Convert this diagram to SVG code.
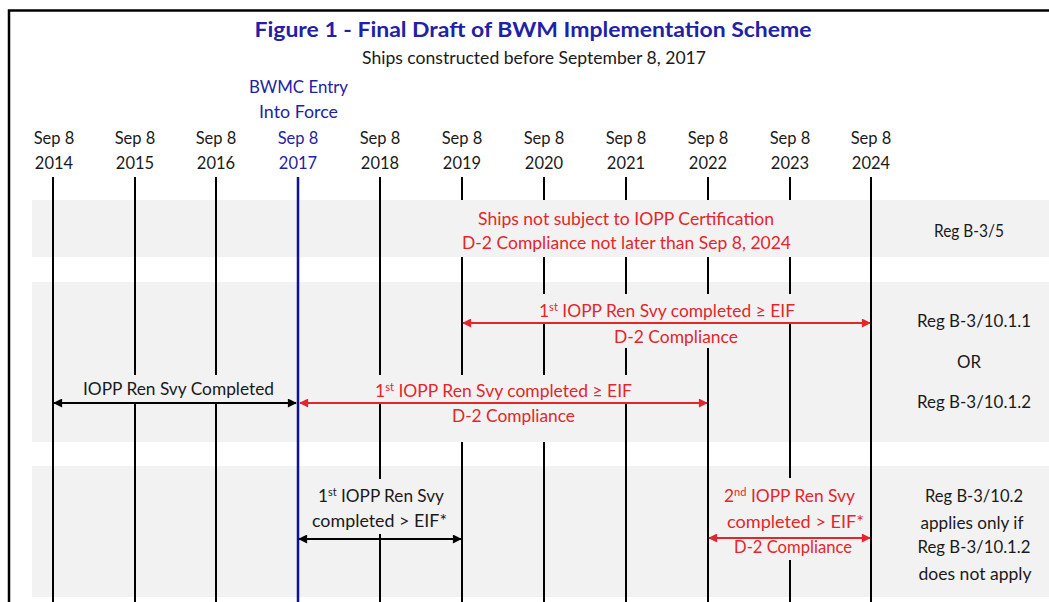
<svg xmlns="http://www.w3.org/2000/svg" width="1049" height="602" viewBox="0 0 1049 602">
<defs>
<style>
text{font-family:Lato,"Open Sans","Liberation Sans",sans-serif;font-size:16.5px;text-anchor:middle}
.blk{fill:#1a1a1a}
.red{fill:#e3262b}
.blu{fill:#1f22a6}
.title{font-weight:bold;font-size:20.5px}
.band{fill:#f2f2f2}
.vl{stroke:#000;stroke-width:2}
.sup{font-size:10.5px}
.ab{stroke:#000;stroke-width:2;fill:none}
.ar{stroke:#e3262b;stroke-width:2;fill:none}
</style>
<marker id="hb" viewBox="0 0 10 10" refX="9" refY="5" markerWidth="10" markerHeight="9" markerUnits="userSpaceOnUse" orient="auto-start-reverse"><path d="M0,0 L10,5 L0,10 Z" fill="#000"/></marker>
<marker id="hr" viewBox="0 0 10 10" refX="9" refY="5" markerWidth="10" markerHeight="9" markerUnits="userSpaceOnUse" orient="auto-start-reverse"><path d="M0,0 L10,5 L0,10 Z" fill="#e3262b"/></marker>
</defs>
<rect width="1049" height="602" fill="#fff"/>
<path d="M9,602 V10.5 H1049" fill="none" stroke="#000" stroke-width="2.5"/>
<g id="bands">
<rect class="band" x="32" y="200" width="1017" height="57"/>
<rect class="band" x="32" y="282" width="1017" height="160"/>
<rect class="band" x="32" y="466" width="1017" height="131"/>
</g>
<g id="timeline">
<line class="vl" x1="53" y1="177" x2="53" y2="602"/>
<line class="vl" x1="135" y1="177" x2="135" y2="602"/>
<line class="vl" x1="216" y1="177" x2="216" y2="602"/>
<line x1="298" y1="177" x2="298" y2="602" stroke="#1010a0" stroke-width="2.5"/>
<line class="vl" x1="380" y1="177" x2="380" y2="602"/>
<line class="vl" x1="462" y1="177" x2="462" y2="602"/>
<line class="vl" x1="544" y1="177" x2="544" y2="602"/>
<line class="vl" x1="626" y1="177" x2="626" y2="602"/>
<line class="vl" x1="708" y1="177" x2="708" y2="602"/>
<line class="vl" x1="790" y1="177" x2="790" y2="602"/>
<line class="vl" x1="871" y1="177" x2="871" y2="602"/>
</g>
<g id="textboxes">
<rect class="band" x="455" y="200" width="342" height="57"/>
<rect class="band" x="530" y="294" width="270" height="28"/>
<rect class="band" x="600" y="322" width="120" height="26"/>
<rect class="band" x="370" y="375" width="270" height="28"/>
<rect class="band" x="445" y="403" width="135" height="39"/>
<rect class="band" x="78" y="375" width="202" height="28"/>
<rect class="band" x="310" y="479" width="140" height="55"/>
<rect class="band" x="720" y="478" width="146" height="82"/>
</g>
<g id="header">
<text class="blu title" x="533" y="37" textLength="557" lengthAdjust="spacingAndGlyphs">Figure 1 - Final Draft of BWM Implementation Scheme</text>
<text class="blk" x="534" y="64" textLength="344" lengthAdjust="spacingAndGlyphs">Ships constructed before September 8, 2017</text>
<text class="blu" x="298.5" y="93" textLength="99" lengthAdjust="spacingAndGlyphs">BWMC Entry</text>
<text class="blu" x="298.5" y="118" textLength="79" lengthAdjust="spacingAndGlyphs">Into Force</text>
</g>
<g id="dates">
<g id="d2014"><text class="blk" x="54" y="144">Sep 8</text><text class="blk" x="54" y="169">2014</text></g>
<g id="d2015"><text class="blk" x="135" y="144">Sep 8</text><text class="blk" x="135" y="169">2015</text></g>
<g id="d2016"><text class="blk" x="216" y="144">Sep 8</text><text class="blk" x="216" y="169">2016</text></g>
<g id="d2017"><text class="blu" x="298" y="144">Sep 8</text><text class="blu" x="298" y="169">2017</text></g>
<g id="d2018"><text class="blk" x="380" y="144">Sep 8</text><text class="blk" x="380" y="169">2018</text></g>
<g id="d2019"><text class="blk" x="462" y="144">Sep 8</text><text class="blk" x="462" y="169">2019</text></g>
<g id="d2020"><text class="blk" x="544" y="144">Sep 8</text><text class="blk" x="544" y="169">2020</text></g>
<g id="d2021"><text class="blk" x="626" y="144">Sep 8</text><text class="blk" x="626" y="169">2021</text></g>
<g id="d2022"><text class="blk" x="708" y="144">Sep 8</text><text class="blk" x="708" y="169">2022</text></g>
<g id="d2023"><text class="blk" x="790" y="144">Sep 8</text><text class="blk" x="790" y="169">2023</text></g>
<g id="d2024"><text class="blk" x="871" y="144">Sep 8</text><text class="blk" x="871" y="169">2024</text></g>
</g>
<g id="connectors">
<line class="ar" x1="463" y1="323" x2="870" y2="323" marker-start="url(#hr)" marker-end="url(#hr)"/>
<line class="ab" x1="54" y1="403" x2="296" y2="403" marker-start="url(#hb)" marker-end="url(#hb)"/>
<line class="ar" x1="300" y1="403" x2="707" y2="403" marker-start="url(#hr)" marker-end="url(#hr)"/>
<line class="ab" x1="299" y1="539" x2="461" y2="539" marker-start="url(#hb)" marker-end="url(#hb)"/>
<line class="ar" x1="709" y1="538" x2="870" y2="538" marker-start="url(#hr)" marker-end="url(#hr)"/>
</g>
<g id="reg-b35">
<text class="red" x="626" y="225" textLength="296" lengthAdjust="spacingAndGlyphs">Ships not subject to IOPP Certification</text>
<text class="red" x="626.5" y="249" textLength="329" lengthAdjust="spacingAndGlyphs">D-2 Compliance not later than Sep 8, 2024</text>
<text class="blk" x="969" y="237" textLength="70" lengthAdjust="spacingAndGlyphs">Reg B-3/5</text>
</g>
<g id="reg-b3101">
<text class="red" x="667" y="317" textLength="256" lengthAdjust="spacingAndGlyphs">1<tspan class="sup" dy="-6">st</tspan><tspan dy="6"> IOPP Ren Svy completed ≥ EIF</tspan></text>
<text class="red" x="676" y="343" textLength="124" lengthAdjust="spacingAndGlyphs">D-2 Compliance</text>
<text class="blk" x="178.5" y="395" textLength="191" lengthAdjust="spacingAndGlyphs">IOPP Ren Svy Completed</text>
<text class="red" x="503.5" y="397" textLength="257" lengthAdjust="spacingAndGlyphs">1<tspan class="sup" dy="-6">st</tspan><tspan dy="6"> IOPP Ren Svy completed ≥ EIF</tspan></text>
<text class="red" x="513.5" y="422" textLength="123" lengthAdjust="spacingAndGlyphs">D-2 Compliance</text>
<text class="blk" x="974" y="327" textLength="114" lengthAdjust="spacingAndGlyphs">Reg B-3/10.1.1</text>
<text class="blk" x="969" y="368" textLength="24" lengthAdjust="spacingAndGlyphs">OR</text>
<text class="blk" x="974" y="408" textLength="114" lengthAdjust="spacingAndGlyphs">Reg B-3/10.1.2</text>
</g>
<g id="reg-b3102">
<text class="blk" x="381" y="502" textLength="126" lengthAdjust="spacingAndGlyphs">1<tspan class="sup" dy="-6">st</tspan><tspan dy="6"> IOPP Ren Svy</tspan></text>
<text class="blk" x="379.5" y="527" textLength="135" lengthAdjust="spacingAndGlyphs">completed &gt; EIF*</text>
<text class="red" x="789.5" y="502" textLength="131" lengthAdjust="spacingAndGlyphs">2<tspan class="sup" dy="-6">nd</tspan><tspan dy="6"> IOPP Ren Svy</tspan></text>
<text class="red" x="795.5" y="528" textLength="137" lengthAdjust="spacingAndGlyphs">completed &gt; EIF*</text>
<text class="red" x="793" y="553" textLength="118" lengthAdjust="spacingAndGlyphs">D-2 Compliance</text>
<text class="blk" x="974" y="502" textLength="98" lengthAdjust="spacingAndGlyphs">Reg B-3/10.2</text>
<text class="blk" x="972" y="529" textLength="103" lengthAdjust="spacingAndGlyphs">applies only if</text>
<text class="blk" x="974" y="553" textLength="113" lengthAdjust="spacingAndGlyphs">Reg B-3/10.1.2</text>
<text class="blk" x="975" y="580" textLength="113" lengthAdjust="spacingAndGlyphs">does not apply</text>
</g>
</svg>
